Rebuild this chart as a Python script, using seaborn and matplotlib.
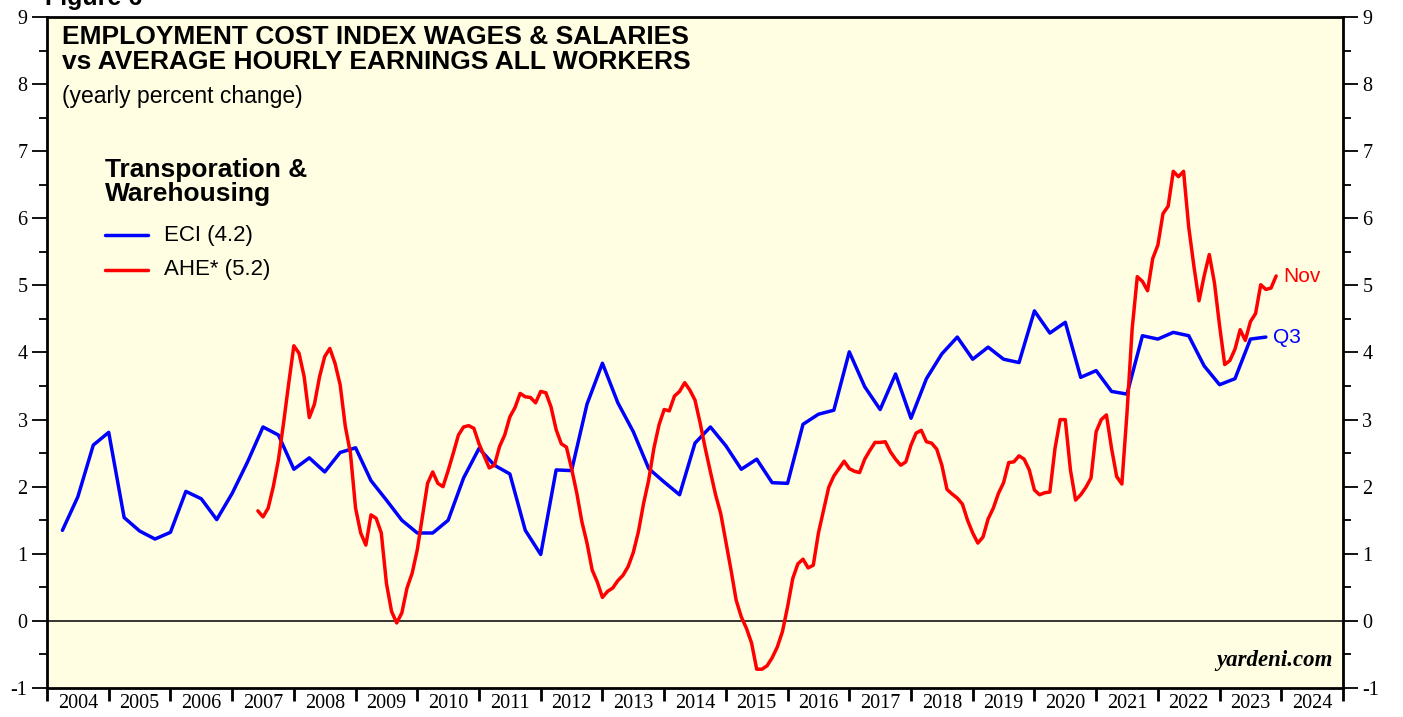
import numpy as np
import pandas as pd
import matplotlib
matplotlib.use("Agg")
import matplotlib.pyplot as plt
from matplotlib.lines import Line2D
from matplotlib.ticker import FixedLocator, FixedFormatter, MultipleLocator, FuncFormatter, NullFormatter
import seaborn as sns

# ECI wages & salaries, transportation & warehousing, y/y %, quarterly 2004Q1..2023Q3
eci = [
    1.35, 1.85, 2.62, 2.81,  # 2004
    1.54, 1.34, 1.22, 1.32,  # 2005
    1.93, 1.82, 1.51, 1.90,  # 2006
    2.37, 2.89, 2.77, 2.26,  # 2007
    2.43, 2.22, 2.51, 2.58,  # 2008
    2.09, 1.80, 1.50, 1.31,  # 2009
    1.31, 1.50, 2.13, 2.57,  # 2010
    2.32, 2.19, 1.35, 0.99,  # 2011
    2.25, 2.24, 3.23, 3.84,  # 2012
    3.25, 2.82, 2.27, 2.07,  # 2013
    1.88, 2.65, 2.89, 2.61,  # 2014
    2.26, 2.41, 2.06, 2.05,  # 2015
    2.93, 3.08, 3.14, 4.01,  # 2016
    3.49, 3.15, 3.68, 3.02,  # 2017
    3.61, 3.98, 4.23, 3.90,  # 2018
    4.08, 3.90, 3.85, 4.62,  # 2019
    4.29, 4.45, 3.63, 3.73,  # 2020
    3.42, 3.38, 4.25, 4.20,  # 2021
    4.30, 4.25, 3.80, 3.52,  # 2022
    3.61, 4.20, 4.23,        # 2023
]
eci_start = 2004  # first quarter of this year

# average hourly earnings, y/y %, monthly May 2007..Nov 2023
ahe = [
    1.64, 1.55, 1.68, 2.00, 2.40, 2.95, 3.54, 4.10,  # 2007 May-Dec
    3.99, 3.64, 3.03, 3.23, 3.64, 3.94, 4.06, 3.84, 3.52, 2.90, 2.50, 1.68,
    1.31, 1.13, 1.58, 1.53, 1.31, 0.56, 0.14, -0.03, 0.12, 0.49, 0.71, 1.06,
    1.55, 2.05, 2.22, 2.05, 2.00, 2.24, 2.50, 2.77, 2.89, 2.91, 2.87, 2.64,
    2.46, 2.28, 2.32, 2.60, 2.77, 3.04, 3.18, 3.39, 3.34, 3.33, 3.25, 3.42,
    3.40, 3.19, 2.85, 2.64, 2.59, 2.27, 1.91, 1.48, 1.16, 0.76, 0.58, 0.35,
    0.44, 0.49, 0.60, 0.68, 0.81, 1.02, 1.33, 1.75, 2.10, 2.57, 2.92, 3.15,
    3.13, 3.35, 3.42, 3.55, 3.44, 3.29, 2.95, 2.57, 2.22, 1.88, 1.60, 1.18,
    0.76, 0.31, 0.06, -0.11, -0.33, -0.72, -0.72, -0.67, -0.55, -0.39, -0.16, 0.21,
    0.63, 0.85, 0.92, 0.79, 0.83, 1.31, 1.65, 1.99, 2.16, 2.27, 2.38, 2.27,
    2.23, 2.21, 2.41, 2.54, 2.66, 2.66, 2.67, 2.52, 2.41, 2.32, 2.37, 2.62,
    2.80, 2.84, 2.67, 2.65, 2.56, 2.32, 1.96, 1.89, 1.83, 1.74, 1.50, 1.31,
    1.16, 1.25, 1.52, 1.68, 1.90, 2.06, 2.36, 2.37, 2.46, 2.41, 2.25, 1.95,
    1.88, 1.91, 1.92, 2.57, 3.00, 3.00, 2.25, 1.80, 1.88, 1.99, 2.13, 2.82,
    3.00, 3.07, 2.57, 2.15, 2.04, 3.10, 4.35, 5.13, 5.06, 4.92, 5.40, 5.60,
    6.07, 6.18, 6.70, 6.62, 6.70, 5.87, 5.29, 4.77, 5.14, 5.46, 5.04, 4.40,
    3.82, 3.88, 4.05, 4.34, 4.18, 4.46, 4.58, 5.01, 4.94, 4.96, 5.14,  # 2023 Jan-Nov
]
ahe_start = (2007, 5)

years = list(range(2004, 2025))
yticks = list(range(-1, 10))

title = "EMPLOYMENT COST INDEX WAGES & SALARIES\nvs AVERAGE HOURLY EARNINGS ALL WORKERS"
subtitle = "(yearly percent change)"
legend_title = "Transporation &\nWarehousing"
eci_label = "ECI (4.2)"
ahe_label = "AHE* (5.2)"

BLUE = "#0000FF"
RED = "#FF0000"
PANEL = "#FFFEE3"

# plotted at period end, as decimal years
eci_df = pd.DataFrame({"date": [eci_start + 0.25 * (i + 1) for i in range(len(eci))], "value": eci})
ahe_df = pd.DataFrame({"date": [ahe_start[0] + (ahe_start[1] + i) / 12 for i in range(len(ahe))], "value": ahe})

sns.set_theme(style="ticks")
plt.rcParams["font.family"] = ["Liberation Sans", "DejaVu Sans"]
plt.rcParams["axes.unicode_minus"] = False
plt.rcParams["text.color"] = "black"
plt.rcParams["xtick.color"] = "black"
plt.rcParams["ytick.color"] = "black"

W, H = 1403, 717
fig = plt.figure(figsize=(W / 100, H / 100), dpi=100, facecolor="white")
L, R, T, B = 47, 1343, 17, 688
ax = fig.add_axes([L / W, 1 - B / H, (R - L) / W, (B - T) / H])
ax.set_facecolor(PANEL)

def fx(px):
    return px / W

def fy(py):
    return 1 - py / H

sns.lineplot(data=eci_df, x="date", y="value", color=BLUE, lw=2.5, ax=ax, zorder=3)
sns.lineplot(data=ahe_df, x="date", y="value", color=RED, lw=2.5, ax=ax, zorder=4)
ax.axhline(0, color="black", lw=1.1, zorder=2)

ax.set_xlim(years[0], years[-1] + 1)
ax.set_ylim(yticks[0], yticks[-1])
ax.set_xlabel("")
ax.set_ylabel("")

for s in ax.spines.values():
    s.set_linewidth(2.0)
    s.set_color("black")

# y axis on both sides
ax.yaxis.set_major_locator(FixedLocator(yticks))
ax.yaxis.set_major_formatter(FuncFormatter(lambda v, _: f"{v:.0f}"))
ax.yaxis.set_minor_locator(MultipleLocator(0.5))
ax.tick_params(axis="y", which="major", direction="out", length=11, width=1.3,
               left=True, right=True, labelleft=True, labelright=True,
               labelsize=14.5, pad=3, labelfontfamily="Liberation Serif")
ax.tick_params(axis="y", which="minor", direction="out", length=5.5, width=1.3,
               left=True, right=True)

# x axis: year boundaries as ticks, labels centred in each year
ax.xaxis.set_major_locator(FixedLocator(years + [years[-1] + 1]))
ax.xaxis.set_major_formatter(NullFormatter())
ax.xaxis.set_minor_locator(FixedLocator([y + 0.5 for y in years]))
ax.xaxis.set_minor_formatter(FixedFormatter([str(y) for y in years]))
ax.tick_params(axis="x", which="major", direction="out", length=9, width=2.0)
ax.tick_params(axis="x", which="minor", length=0, pad=4, labelsize=14.5,
               labelfontfamily="Liberation Serif")

# titles
fig.text(fx(62), fy(25), title, ha="left", va="top", fontsize=19,
         fontweight="bold", linespacing=1.06)
fig.text(fx(62), fy(85), subtitle, ha="left", va="top", fontsize=16.5)
fig.text(fx(45), fy(5), "Figure 6", ha="left", va="baseline", fontsize=18, fontweight="bold")

# legend block
fig.text(fx(105), fy(158), legend_title, ha="left", va="top", fontsize=19,
         fontweight="bold", linespacing=1.0)
for py, col, lab in [(235, BLUE, eci_label), (270, RED, ahe_label)]:
    fig.add_artist(Line2D([fx(105), fx(148)], [fy(py), fy(py)], color=col, lw=2.5,
                          transform=fig.transFigure))
    fig.text(fx(164), fy(py), lab, ha="left", va="center", fontsize=16)

# end labels
ax.annotate("Nov", (ahe_df["date"].iloc[-1], ahe_df["value"].iloc[-1]),
            xytext=(5, 0), textcoords="offset points", color=RED,
            fontsize=15, va="center", ha="left")
ax.annotate("Q3", (eci_df["date"].iloc[-1], eci_df["value"].iloc[-1]),
            xytext=(5, 0), textcoords="offset points", color=BLUE,
            fontsize=15, va="center", ha="left")

ax.text(0.9923, 0.0255, "yardeni.com", transform=ax.transAxes, ha="right", va="bottom",
        fontsize=16.5, fontweight="bold", fontstyle="italic", family="Liberation Serif")

fig.savefig("out.png", dpi=100, facecolor="white")
